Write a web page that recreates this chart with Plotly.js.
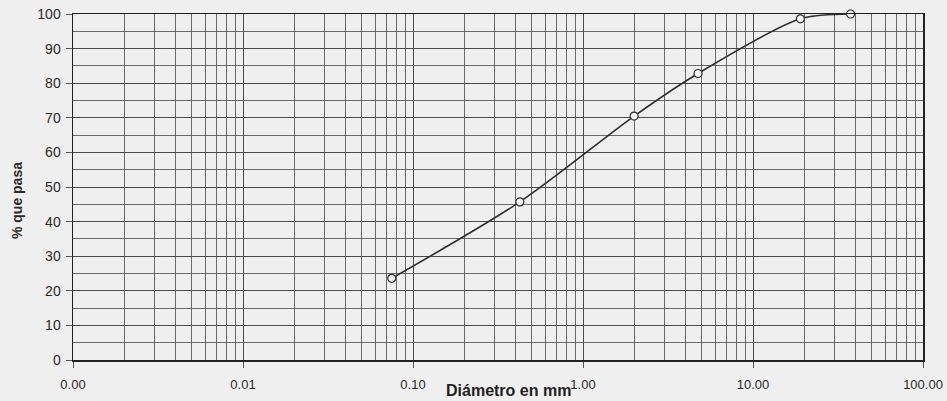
<!DOCTYPE html>
<html>
<head>
<meta charset="utf-8">
<script src="https://cdn.plot.ly/plotly-3.0.1.min.js"></script>
<style>
html,body{margin:0;padding:0;background:#efefef;}
#chart{width:947px;height:401px;}
</style>
</head>
<body>
<div id="chart"></div>
<script>
// Data: sieve opening (mm) and percent passing
const diametroMm = [0.075, 0.425, 2.0, 4.75, 19.0, 37.5];
const porcentajePasa = [23.6, 45.7, 70.5, 82.8, 98.6, 100];

// Axis tick labels
const xTickVals = [0.001, 0.01, 0.1, 1, 10, 100];
const xTickText = ["0.00", "0.01", "0.10", "1.00", "10.00", "100.00"];

// Minor log grid (2..9 within each decade)
const minorVals = [];
for (let e = -3; e < 2; e++) {
  for (let k = 2; k <= 9; k++) minorVals.push(k * Math.pow(10, e));
}

const gridCol = '#4a4a4a';
const fontFam = 'Liberation Sans, Arial, sans-serif';

const trace = {
  x: diametroMm,
  y: porcentajePasa,
  type: 'scatter',
  mode: 'lines+markers',
  line: {color: '#2e2e2e', width: 1.6, shape: 'spline', smoothing: 0.8},
  marker: {symbol: 'circle', size: 8, color: '#f4f4f4', line: {color: '#2e2e2e', width: 1.2}},
  cliponaxis: false,
  hoverinfo: 'x+y'
};

const layout = {
  width: 947,
  height: 401,
  paper_bgcolor: '#efefef',
  plot_bgcolor: '#efefef',
  margin: {l: 73, r: 24, t: 14, b: 41},
  showlegend: false,
  font: {family: fontFam, size: 13, color: '#2a2a2a'},
  xaxis: {
    type: 'log',
    range: [-3, 2],
    tickvals: xTickVals,
    ticktext: xTickText,
    ticks: 'outside',
    ticklen: 6,
    tickcolor: '#555',
    tickfont: {family: fontFam, size: 13, color: '#2a2a2a'},
    showgrid: true,
    gridcolor: gridCol,
    gridwidth: 1,
    minor: {tickvals: minorVals, showgrid: true, gridcolor: gridCol, gridwidth: 0.8, ticks: ''},
    showline: true,
    linecolor: '#222',
    linewidth: 1.5,
    mirror: true,
    zeroline: false,
    ticklabelstandoff: 6
  },
  yaxis: {
    range: [0, 100],
    dtick: 10,
    tick0: 0,
    ticks: 'outside',
    ticklen: 6,
    tickcolor: '#555',
    tickfont: {family: fontFam, size: 14, color: '#2a2a2a'},
    showgrid: true,
    gridcolor: gridCol,
    gridwidth: 1,
    minor: {dtick: 5, showgrid: true, gridcolor: gridCol, gridwidth: 0.8, ticks: ''},
    showline: true,
    linecolor: '#222',
    linewidth: 1.5,
    mirror: true,
    zeroline: false,
    ticklabelstandoff: 2
  },
  annotations: [{
    text: '<b>Diámetro en mm</b>',
    xref: 'paper', yref: 'paper',
    x: 0.512, y: -0.087,
    xanchor: 'center', yanchor: 'middle',
    showarrow: false,
    font: {family: fontFam, size: 16, color: '#222'}
  }, {
    text: '<b>% que pasa</b>',
    xref: 'paper', yref: 'paper',
    x: -0.066, y: 0.462,
    xanchor: 'center', yanchor: 'middle',
    textangle: -90,
    showarrow: false,
    font: {family: fontFam, size: 14, color: '#2a2a2a'}
  }]
};

Plotly.newPlot('chart', [trace], layout, {displayModeBar: false, staticPlot: true});
</script>
</body>
</html>
